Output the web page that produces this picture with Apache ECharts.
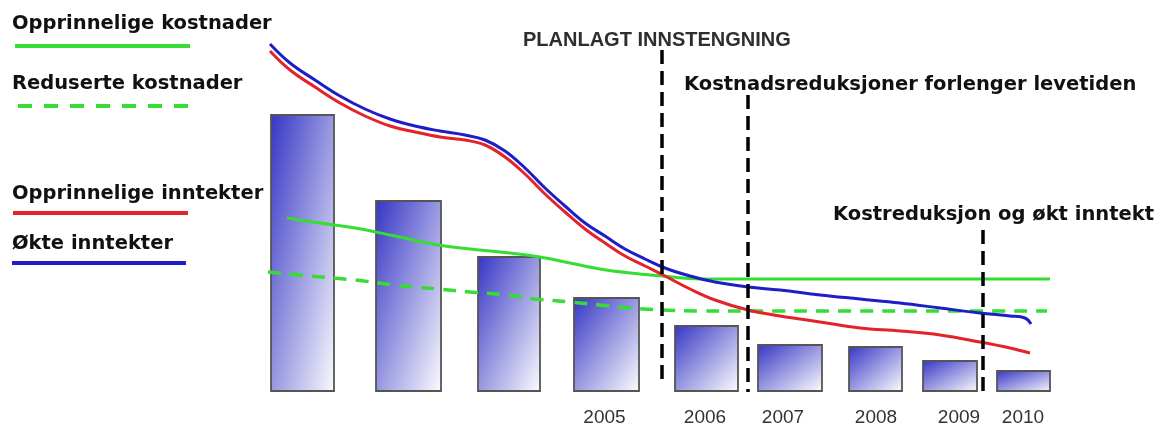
<!DOCTYPE html>
<html>
<head>
<meta charset="utf-8">
<style>
  html, body { margin: 0; padding: 0; background: #ffffff; }
  #chart { width: 1163px; height: 430px; }
</style>
<script src="https://cdn.jsdelivr.net/npm/echarts@6/dist/echarts.min.js"></script>
</head>
<body>
<div id="chart"></div>
<script>
// ---- data (schematic units) ----
const yearLabels = ['2005', '2006', '2007', '2008', '2009', '2010'];
const yearLabelPos = [35.45, 45.5, 53.3, 62.6, 70.9, 77.3];

const barStart  = [2.1, 12.6, 22.8, 32.4, 42.5, 50.8, 59.9, 67.3, 74.7];
const barEnd    = [8.4, 19.1, 29.0, 38.9, 48.8, 57.2, 65.2, 72.7, 80.0];
const barValues = [27.6, 19.0, 13.4, 9.3, 6.5, 4.6, 4.4, 3.0, 2.0];

const origCosts = [[3.7,17.3],[7.0,16.8],[10.5,16.3],[14.5,15.5],[18.8,14.6],[22.0,14.2],[25.0,13.9],[29.0,13.4],[32.0,12.8],[35.0,12.2],[38.0,11.8],[41.2,11.5],[45.0,11.2],[49.8,11.2],[55.0,11.2],[65.0,11.2],[75.0,11.2],[80.0,11.2]];
const reducedCosts = [[1.8,11.9],[6.0,11.5],[10.5,11.1],[14.5,10.6],[18.8,10.2],[22.0,9.9],[25.7,9.6],[28.5,9.2],[32.0,8.9],[35.0,8.6],[38.0,8.3],[41.2,8.1],[45.0,8.0],[49.8,8.0],[60.0,8.0],[70.0,8.0],[79.7,8.0]];
const origIncome = [[2.0,34.0],[4.0,32.1],[6.5,30.4],[9.0,28.8],[11.5,27.5],[14.0,26.5],[16.5,25.9],[19.0,25.4],[21.5,25.1],[23.5,24.6],[25.5,23.4],[27.5,21.7],[29.5,19.7],[31.5,17.9],[33.5,16.2],[35.5,14.8],[37.5,13.5],[39.5,12.5],[41.5,11.5],[44.0,10.2],[46.5,9.1],[49.8,8.1],[53.0,7.5],[57.0,6.9],[61.0,6.3],[65.0,6.0],[69.0,5.6],[73.0,4.9],[76.0,4.3],[78.0,3.8]];
const raisedIncome = [[2.0,34.7],[4.0,32.8],[6.5,31.1],[9.0,29.5],[11.5,28.2],[14.0,27.2],[16.5,26.5],[19.0,26.0],[21.5,25.6],[23.5,25.1],[25.5,24.0],[27.5,22.3],[29.5,20.3],[31.5,18.5],[33.5,16.8],[35.5,15.5],[37.5,14.2],[39.5,13.2],[41.5,12.3],[44.0,11.5],[46.5,10.9],[49.8,10.4],[53.0,10.1],[57.0,9.6],[61.0,9.2],[65.0,8.8],[69.0,8.3],[73.0,7.8],[76.0,7.5],[77.5,7.3],[78.1,6.7]];

const markerX      = [41.2, 49.8, 73.3];
const markerTop    = [34.1, 29.6, 16.1];
const markerBottom = [0.9, -0.1, -0.2];

const seriesNames = ['Opprinnelige kostnader', 'Reduserte kostnader', 'Opprinnelige inntekter', 'Økte inntekter'];
const notes = ['PLANLAGT INNSTENGNING', 'Kostnadsreduksjoner forlenger levetiden', 'Kostreduksjon og økt inntekt'];

// ---- styles ----
const GREEN = '#35dd35', RED = '#e32229', BLUE = '#1e1ec8';
const LEGEND_FONT = 'bold 19.5px "DejaVu Sans", Verdana, sans-serif';

const chart = echarts.init(document.getElementById('chart'), null, { renderer: 'canvas' });

const barData = barValues.map((v, i) => [barStart[i], barEnd[i], v]);
const markerData = markerX.map((x, i) => [x, markerTop[i], markerBottom[i]]);

const option = {
  animation: false,
  backgroundColor: '#ffffff',
  grid: { left: 250, right: 93, top: 41, bottom: 39 },
  xAxis: {
    type: 'value', min: 0, max: 82,
    axisLine: { show: false }, axisTick: { show: false }, splitLine: { show: false },
    axisLabel: {
      customValues: yearLabelPos,
      formatter: function (v) {
        const i = yearLabelPos.findIndex(p => Math.abs(p - v) < 1e-6);
        return i >= 0 ? yearLabels[i] : '';
      },
      margin: 17,
      color: '#333333',
      fontFamily: '"Liberation Sans", Arial, sans-serif',
      fontSize: 19
    }
  },
  yAxis: { type: 'value', min: 0, max: 35, show: false },
  series: [
    {
      type: 'custom',
      z: 1,
      data: barData,
      encode: { x: [0, 1], y: 2 },
      renderItem: function (params, api) {
        const p1 = api.coord([api.value(0), api.value(2)]);
        const p2 = api.coord([api.value(1), 0]);
        const w = p2[0] - p1[0], h = p2[1] - p1[1];
        const d = w * w + h * h;
        return {
          type: 'rect',
          shape: { x: p1[0], y: p1[1], width: w, height: h },
          style: {
            fill: new echarts.graphic.LinearGradient(0, 0, 2 * h * h / d, 2 * w * w / d, [
              { offset: 0, color: '#3434c4' },
              { offset: 1, color: '#ffffff' }
            ]),
            stroke: '#555555',
            lineWidth: 1.8
          }
        };
      }
    },
    {
      name: seriesNames[0], type: 'line', z: 3, smooth: 0.4, symbol: 'none',
      data: origCosts, lineStyle: { color: GREEN, width: 3 }
    },
    {
      name: seriesNames[1], type: 'line', z: 3, smooth: 0.4, symbol: 'none',
      data: reducedCosts, lineStyle: { color: GREEN, width: 3.5, type: [13, 9] }
    },
    {
      name: seriesNames[2], type: 'line', z: 3, smooth: 0.4, symbol: 'none',
      data: origIncome, lineStyle: { color: RED, width: 3 }
    },
    {
      name: seriesNames[3], type: 'line', z: 4, smooth: 0.4, symbol: 'none',
      data: raisedIncome, lineStyle: { color: BLUE, width: 3 }
    },
    {
      type: 'custom',
      z: 6,
      clip: false,
      data: markerData,
      encode: { x: 0, y: [1, 2] },
      renderItem: function (params, api) {
        const a = api.coord([api.value(0), api.value(1)]);
        const b = api.coord([api.value(0), api.value(2)]);
        return {
          type: 'line',
          shape: { x1: a[0], y1: a[1], x2: b[0], y2: b[1] },
          style: { stroke: '#000000', lineWidth: 3.5, lineDash: [14, 7] }
        };
      }
    }
  ],
  graphic: [
    { type: 'text', left: 12, top: 14, style: { text: seriesNames[0], font: LEGEND_FONT, fill: '#111111' } },
    { type: 'line', shape: { x1: 15, y1: 46, x2: 190, y2: 46 }, style: { stroke: GREEN, lineWidth: 4 } },
    { type: 'text', left: 12, top: 74, style: { text: seriesNames[1], font: LEGEND_FONT, fill: '#111111' } },
    { type: 'line', shape: { x1: 18, y1: 106, x2: 190, y2: 106 }, style: { stroke: GREEN, lineWidth: 4, lineDash: [14, 12] } },
    { type: 'text', left: 12, top: 184, style: { text: seriesNames[2], font: LEGEND_FONT, fill: '#111111' } },
    { type: 'line', shape: { x1: 13, y1: 213, x2: 188, y2: 213 }, style: { stroke: RED, lineWidth: 4 } },
    { type: 'text', left: 12, top: 234, style: { text: seriesNames[3], font: LEGEND_FONT, fill: '#111111' } },
    { type: 'line', shape: { x1: 12, y1: 263, x2: 186, y2: 263 }, style: { stroke: BLUE, lineWidth: 4 } },
    { type: 'text', left: 523, top: 30, style: { text: notes[0], font: 'bold 20px "Liberation Sans", Arial, sans-serif', fill: '#2e2e2e' } },
    { type: 'text', left: 684, top: 75, style: { text: notes[1], font: LEGEND_FONT, fill: '#111111' } },
    { type: 'text', left: 833, top: 205, style: { text: notes[2], font: LEGEND_FONT, fill: '#111111' } }
  ]
};

chart.setOption(option);
</script>
</body>
</html>
